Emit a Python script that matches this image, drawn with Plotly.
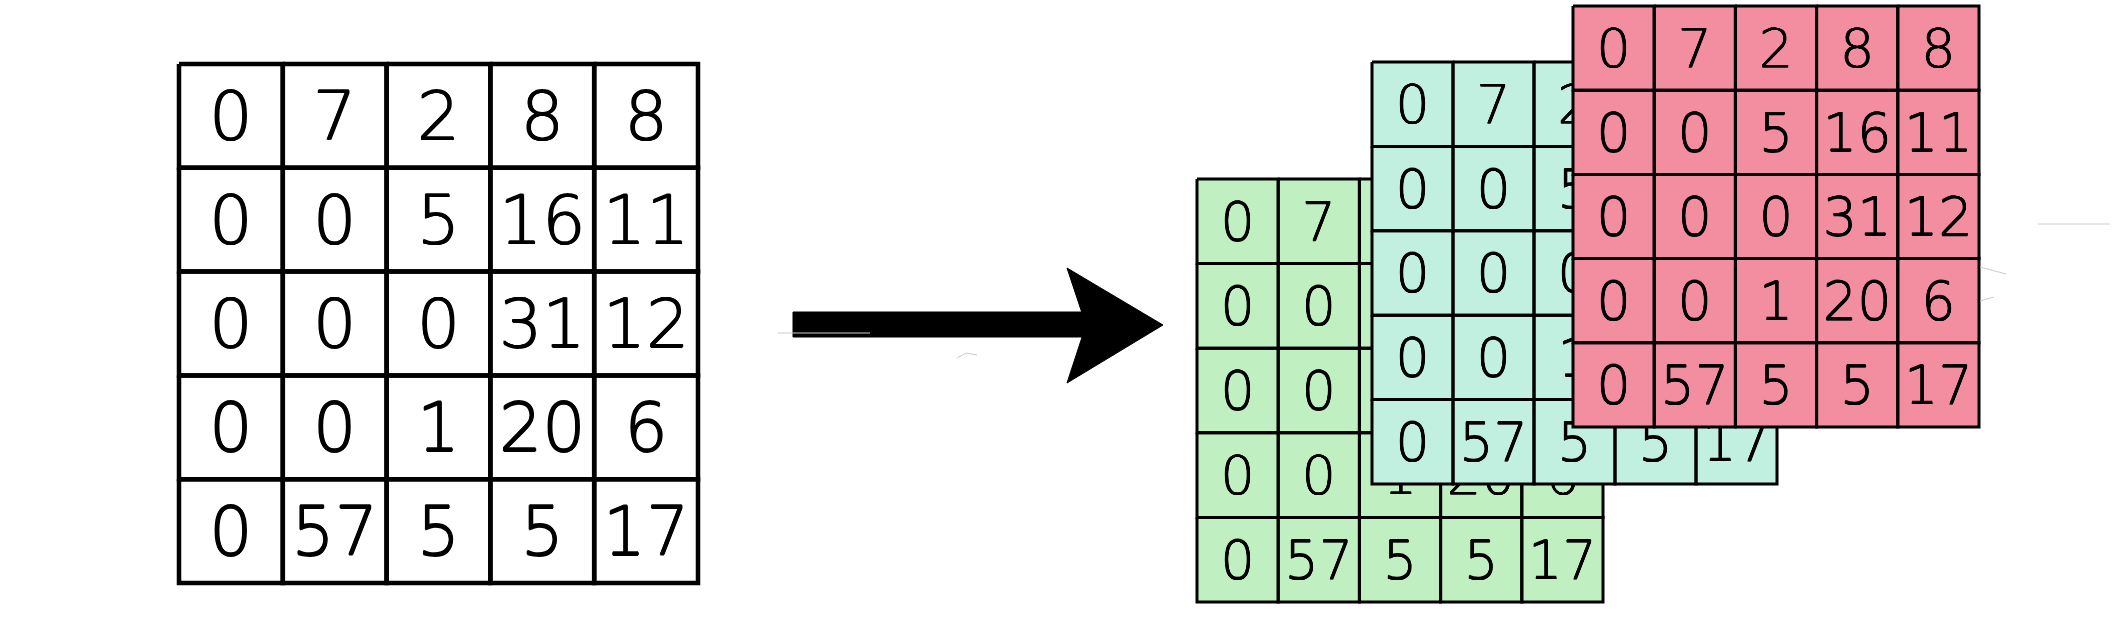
import plotly.graph_objects as go

# feature map values (same matrix shown on the left and copied into each stacked channel)
values = [
    [0, 7, 2, 8, 8],
    [0, 0, 5, 16, 11],
    [0, 0, 0, 31, 12],
    [0, 0, 1, 20, 6],
    [0, 57, 5, 5, 17],
]
channel_names = ["green", "teal", "pink"]
channel_colors = ["#c0efc1", "#c2f0e0", "#f38da0"]

# layout of each grid in pixel coordinates: x0, y0, cell width, cell height
left_grid = (179, 64, 103.8, 103.8)
channel_grids = [
    (1197, 179, 81.2, 84.6),
    (1372, 62, 81.0, 84.4),
    (1573, 6, 81.2, 84.2),
]

W, H = 2112, 644
fig = go.Figure()


def thicken(px):
    # light font + a small text shadow gives a medium stroke like the scan
    return ", ".join(f"{dx}px {dy}px 0 black" for dx, dy in
                     [(px, 0), (-px, 0), (0, px), (0, -px)])


def add_grid(x0, y0, cw, ch, fill, lw, fsize, sh):
    xs, ys, tx, ty, tt = [], [], [], [], []
    for r, row in enumerate(values):
        for c, v in enumerate(row):
            a, b = x0 + c * cw, y0 + r * ch
            xs += [a, a + cw, a + cw, a, a, None]
            ys += [b, b, b + ch, b + ch, b, None]
            tx.append(a + cw / 2)
            ty.append(b + ch / 2 + 0.1 * fsize)  # digits sit a bit low in the cells
            tt.append(str(v))
    fig.add_trace(go.Scatter(x=xs, y=ys, mode="lines", fill="toself",
                             fillcolor=fill, line=dict(color="black", width=lw),
                             hoverinfo="skip"))
    fig.add_trace(go.Scatter(x=tx, y=ty, mode="text", text=tt,
                             textposition="middle center",
                             textfont=dict(size=fsize, color="black", family="DejaVu Sans",
                                           weight=200, shadow=thicken(sh)),
                             hoverinfo="skip"))


add_grid(*left_grid, "white", 4.5, 68, 0.7)
for (x0, y0, cw, ch), col in zip(channel_grids, channel_colors):
    add_grid(x0, y0, cw, ch, col, 3, 54, 0.4)

# arrow: shaft plus head
fig.add_trace(go.Scatter(
    x=[793, 1086, 1086, 793, 793, None, 1067, 1163, 1067, 1086, 1067],
    y=[312, 312, 337, 337, 312, None, 268, 325, 383, 325, 268],
    mode="lines", fill="toself", fillcolor="black",
    line=dict(color="black", width=1), hoverinfo="skip"))

# faint scan marks
fig.add_trace(go.Scatter(
    x=[778, 870, None, 2038, 2110, None, 1980, 2006, None, 1980, 1994, None, 957, 966, 977],
    y=[333, 333, None, 224, 224, None, 267, 274, None, 301, 297, None, 358, 353, 355],
    mode="lines", line=dict(color="#cccccc", width=1), hoverinfo="skip"))

fig.update_layout(
    width=W, height=H, showlegend=False,
    margin=dict(l=0, r=0, t=0, b=0),
    paper_bgcolor="white", plot_bgcolor="white",
    xaxis=dict(range=[0, W], visible=False, fixedrange=True),
    yaxis=dict(range=[H, 0], visible=False, fixedrange=True),
)
fig.write_html("out.html", config={"displayModeBar": False},
               post_script="document.body.style.margin='0';")
